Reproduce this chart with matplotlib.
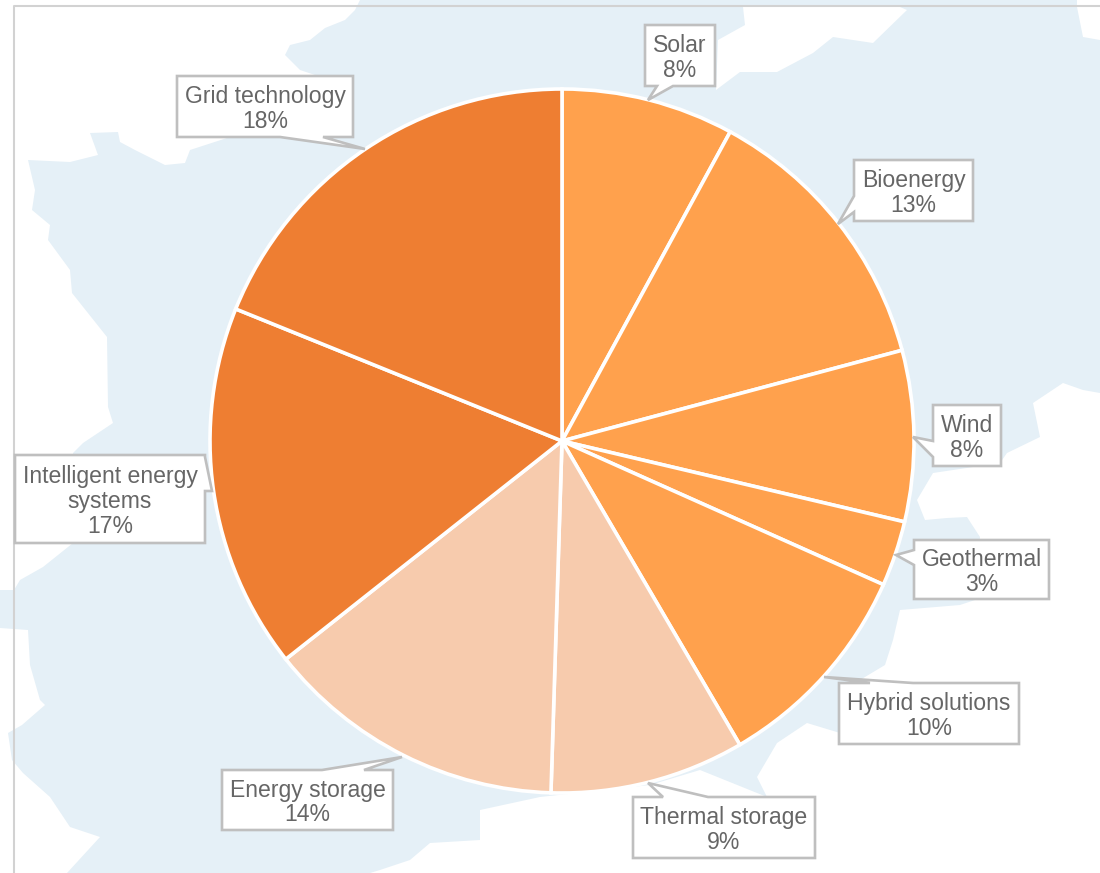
"""Energy technology shares pie, drawn over a pale map background."""
import matplotlib
matplotlib.use("Agg")
import matplotlib.pyplot as plt
from matplotlib.patches import Polygon

W, H = 1100, 873

categories = ["Solar", "Bioenergy", "Wind", "Geothermal", "Hybrid solutions",
              "Thermal storage", "Energy storage", "Intelligent energy\nsystems",
              "Grid technology"]
shares = [7.93, 12.92, 7.84, 3.0, 9.88, 8.93, 13.86, 16.76, 18.88]
share_labels = [8, 13, 8, 3, 10, 9, 14, 17, 18]
slice_colors = ["#FFA14D", "#FFA14D", "#FFA14D", "#FFA14D", "#FFA14D",
                "#F7CBAD", "#F7CBAD", "#EE7E32", "#EE7E32"]

# label boxes in pixels from the top left: left, top, right, bottom
boxes = [
    (645, 25, 715, 86), (854, 160, 973, 221), (933, 405, 1001, 466),
    (914, 540, 1049, 599), (839, 683, 1019, 744), (633, 797, 815, 858),
    (222, 770, 393, 830), (15, 455, 205, 543), (177, 76, 353, 137),
]
# callout tails: first base point, tip, second base point
tails = [
    ((657, 86), (648, 100), (673, 86)),
    ((854, 196), (838, 224), (854, 212)),
    ((933, 441), (913, 437), (933, 457)),
    ((914, 550), (896, 555), (914, 565)),
    ((913, 683), (824, 677), (870, 683)),
    ((663, 797), (648, 783), (708, 797)),
    ((364, 770), (402, 757), (322, 770)),
    ((205, 457), (212, 491), (205, 491)),
    ((280, 137), (365, 149), (323, 137)),
]

# the map is painted as white sea shapes on a pale blue sheet
map_blue = "#E5F0F7"
sea_shapes = [
    [(0, 0), (360, 0), (355, 10), (345, 20), (325, 28), (310, 40), (290, 45), (285, 55),
     (300, 70), (315, 75), (300, 100), (230, 137), (190, 150), (185, 163), (165, 165),
     (135, 150), (120, 142), (118, 132), (90, 133), (98, 155), (70, 162), (28, 160),
     (35, 190), (32, 210), (50, 225), (48, 240), (70, 270), (72, 293), (107, 337),
     (108, 407), (113, 423), (83, 443), (73, 453), (73, 543), (43, 567), (20, 580),
     (14, 590), (0, 590)],
    [(0, 628), (28, 630), (30, 665), (40, 700), (45, 705), (22, 725), (8, 733), (12, 760),
     (23, 773), (50, 797), (70, 827), (100, 837), (67, 873), (0, 873)],
    [(743, 7), (745, 25), (718, 40), (716, 90), (740, 72), (777, 72), (813, 53), (833, 37),
     (873, 43), (907, 10), (900, 7)],
    [(1077, 7), (1083, 37), (1100, 40), (1100, 0), (1077, 0)],
    [(1100, 393), (1083, 390), (1063, 383), (1033, 403), (1040, 437), (1007, 453),
     (1000, 463), (933, 473), (917, 500), (925, 520), (947, 518), (967, 517), (980, 537),
     (975, 600), (960, 605), (900, 610), (893, 640), (885, 665), (860, 680), (840, 700),
     (840, 733), (807, 723), (777, 743), (757, 777), (767, 797), (700, 770), (650, 785),
     (540, 797), (480, 810), (480, 840), (430, 843), (410, 860), (380, 870), (370, 873),
     (1100, 873)],
]

plt.rcParams["font.family"] = ["Liberation Sans", "DejaVu Sans"]

fig = plt.figure(figsize=(W / 100, H / 100), dpi=100)
ax = fig.add_axes([0, 0, 1, 1])


def flip(points):
    return [(x, H - y) for x, y in points]


ax.add_patch(Polygon(flip([(0, 0), (W, 0), (W, H), (0, H)]), facecolor=map_blue, edgecolor="none", zorder=0))
for shape in sea_shapes:
    ax.add_patch(Polygon(flip(shape), facecolor="white", edgecolor="none", zorder=1))

# chart frame, only the left and top edges fall inside the picture
ax.plot([14, 14, W], [0, H - 6, H - 6], color="#D2D2D2", linewidth=1.5, zorder=2)

ax.pie(shares, colors=slice_colors, startangle=90, counterclock=False, center=(562, H - 441),
       radius=352, wedgeprops={"edgecolor": "white", "linewidth": 2.6, "zorder": 3}, frame=True)

for name, label, box, tail in zip(categories, share_labels, boxes, tails):
    left, top, right, bottom = box
    # walk round the box clockwise from the top left, inserting the tail on its side
    corners = [(left, top), (right, top), (right, bottom), (left, bottom)]
    outline = []
    for i, corner in enumerate(corners):
        outline.append(corner)
        nxt = corners[(i + 1) % 4]
        a, tip, b = tail
        on_side = all(
            (p[0] == corner[0] == nxt[0]) or (p[1] == corner[1] == nxt[1]) for p in (a, b)
        )
        if on_side:
            d_a = abs(a[0] - corner[0]) + abs(a[1] - corner[1])
            d_b = abs(b[0] - corner[0]) + abs(b[1] - corner[1])
            outline += [a, tip, b] if d_a <= d_b else [b, tip, a]
    ax.add_patch(Polygon(flip(outline), closed=True, facecolor="white", edgecolor="#BFBFBF",
                         linewidth=1.9, joinstyle="miter", zorder=4))
    ax.text((left + right) / 2, H - (top + bottom) / 2 - 2.5, f"{name}\n{label}%", ha="center",
            va="center", fontsize=16.6, color="#666666", linespacing=1.1, zorder=5)

ax.set_xlim(0, W)
ax.set_ylim(0, H)
ax.set_aspect("auto")
ax.axis("off")

fig.savefig("out.png", dpi=100)
